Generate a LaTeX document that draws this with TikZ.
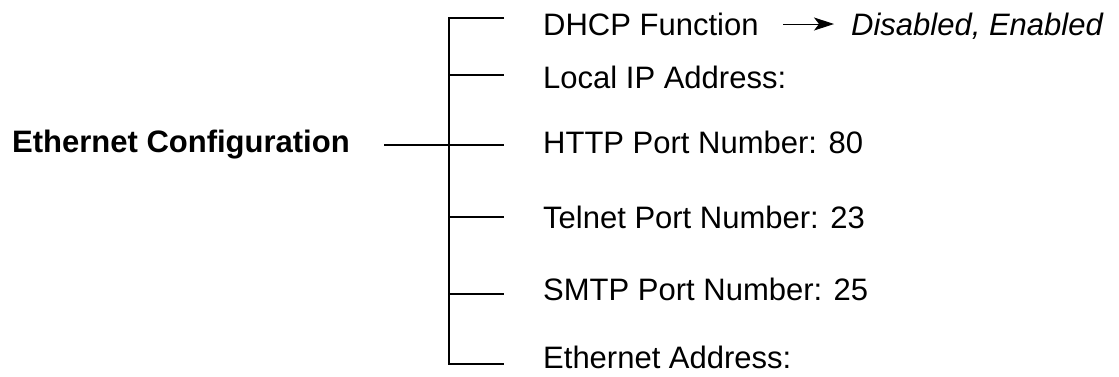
\documentclass[tikz,border=0pt]{standalone}
\usepackage{fontspec}
\setmainfont{Liberation Sans}
\usetikzlibrary{arrows.meta}
\begin{document}
\begin{tikzpicture}[x=1pt,y=-1pt,
  lbl/.style={inner sep=0pt,anchor=base west,font=\fontsize{31}{37}\selectfont},
  tree/.style={line width=2pt,line cap=butt},
  thinarrow/.style={line width=0.9pt,-{Stealth[length=20pt,width=13pt,inset=5pt]}}]
\useasboundingbox (0,0) rectangle (1119,376);
% labels
\node[lbl,font=\fontsize{31}{37}\selectfont\bfseries] (root) at (12,152) {Ethernet Configuration};
\node[lbl] (dhcp) at (543,35) {DHCP Function};
\node[lbl,font=\fontsize{31}{37}\selectfont\itshape] (opts) at (851,35) {Disabled, Enabled};
\node[lbl] (ip) at (543,88) {Local IP Address:};
\node[lbl] (http) at (543,153) {HTTP Port Number: 80};
\node[lbl] (telnet) at (543,228) {Telnet Port Number: 23};
\node[lbl] (smtp) at (543,300) {SMTP Port Number: 25};
\node[lbl] (eth) at (543,368) {Ethernet Address:};
% tree coordinates
\coordinate (rs) at (384,145);
\coordinate (t1) at (449,18);  \coordinate (e1) at (504,18);
\coordinate (t2) at (449,75);  \coordinate (e2) at (504,75);
\coordinate (t3) at (449,145); \coordinate (e3) at (504,145);
\coordinate (t4) at (449,217); \coordinate (e4) at (504,217);
\coordinate (t5) at (449,294); \coordinate (e5) at (504,294);
\coordinate (t6) at (449,364); \coordinate (e6) at (504,364);
\draw[tree] (e1) -- (t1) -- (t6) -- (e6);
\draw[tree] (t2) -- (e2);
\draw[tree] (rs) -- (e3);
\draw[tree] (t4) -- (e4);
\draw[tree] (t5) -- (e5);
% arrow
\coordinate (as) at (783,24);
\coordinate (ae) at (834,24);
\draw[thinarrow] (as) -- (ae);
\end{tikzpicture}
\end{document}
